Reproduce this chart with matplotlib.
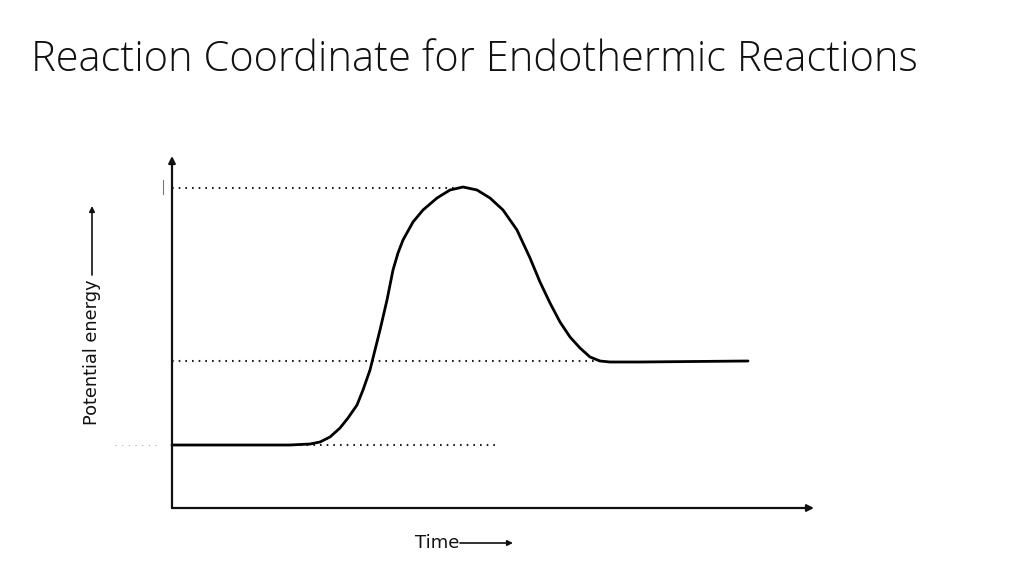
import matplotlib
matplotlib.use('Agg')
import matplotlib.pyplot as plt

# reaction path (time, potential energy), origin at the axes corner
time_pts = [0, 78, 118, 138, 148, 158, 168, 176, 185, 191, 198, 203, 208, 215,
            221, 226, 231, 241, 251, 265, 278, 291, 305, 318, 331, 345, 358,
            368, 378, 388, 398, 408, 418, 428, 438, 468, 576]
energy_pts = [63, 63, 63, 64, 66, 71, 80, 90, 103, 118, 138, 158, 178, 208,
              238, 255, 268, 286, 298, 310, 318, 321, 318, 310, 298, 278, 250,
              226, 205, 186, 171, 160, 151, 147, 146, 146, 147]

# dotted guide levels: (energy, start time, end time)
peak_level = (320, 0, 291)
product_level = (147, 0, 431)
reactant_level = (63, 128, 323)

title = 'Reaction Coordinate for Endothermic Reactions'
ylab = 'Potential energy'
xlab = 'Time'

fig = plt.figure(figsize=(10.24, 5.76), dpi=100)
ax = fig.add_axes([0, 0, 1, 1])
ax.set_xlim(-172, 852)
ax.set_ylim(-68, 508)
ax.axis('off')

# axes with arrows
ax.annotate('', xy=(0, 352), xytext=(0, 0),
            arrowprops=dict(arrowstyle='-|>', lw=1.6, color='#111111',
                            mutation_scale=10, shrinkA=0, shrinkB=0))
ax.annotate('', xy=(642, 0), xytext=(0, 0),
            arrowprops=dict(arrowstyle='-|>', lw=1.6, color='#111111',
                            mutation_scale=10, shrinkA=0, shrinkB=0))

dots = (0, (0.8, 2.4))
for lvl in (peak_level, product_level, reactant_level):
    ax.plot([lvl[1], lvl[2]], [lvl[0], lvl[0]], color='#222222', lw=1.5,
            linestyle=dots)

# faint leftovers near the axis
ax.plot([-57, -12], [63, 63], color='#aaaaaa', lw=0.8, linestyle=(0, (1, 5)))
ax.plot([-9, -9], [314, 328], color='#777777', lw=0.8)

ax.plot(time_pts, energy_pts, color='black', lw=2.0, solid_capstyle='round',
        solid_joinstyle='round')

# axis captions with arrows
ax.text(-80, 83, ylab, rotation=90, ha='center', va='bottom', fontsize=12.8,
        color='#111111')
ax.annotate('', xy=(-80, 302), xytext=(-80, 233),
            arrowprops=dict(arrowstyle='-|>', lw=1.2, color='#111111',
                            mutation_scale=8, shrinkA=0, shrinkB=0))
ax.text(287, -35, xlab, ha='right', va='center', fontsize=13, color='#111111')
ax.annotate('', xy=(341, -35), xytext=(288, -35),
            arrowprops=dict(arrowstyle='-|>', lw=1.2, color='#111111',
                            mutation_scale=8, shrinkA=0, shrinkB=0))

fig.text(31 / 1024, 1 - 60 / 576, title, ha='left', va='center', fontsize=30,
         family='Open Sans', fontweight='light', color='#111111')

fig.savefig('out.png', dpi=100)
